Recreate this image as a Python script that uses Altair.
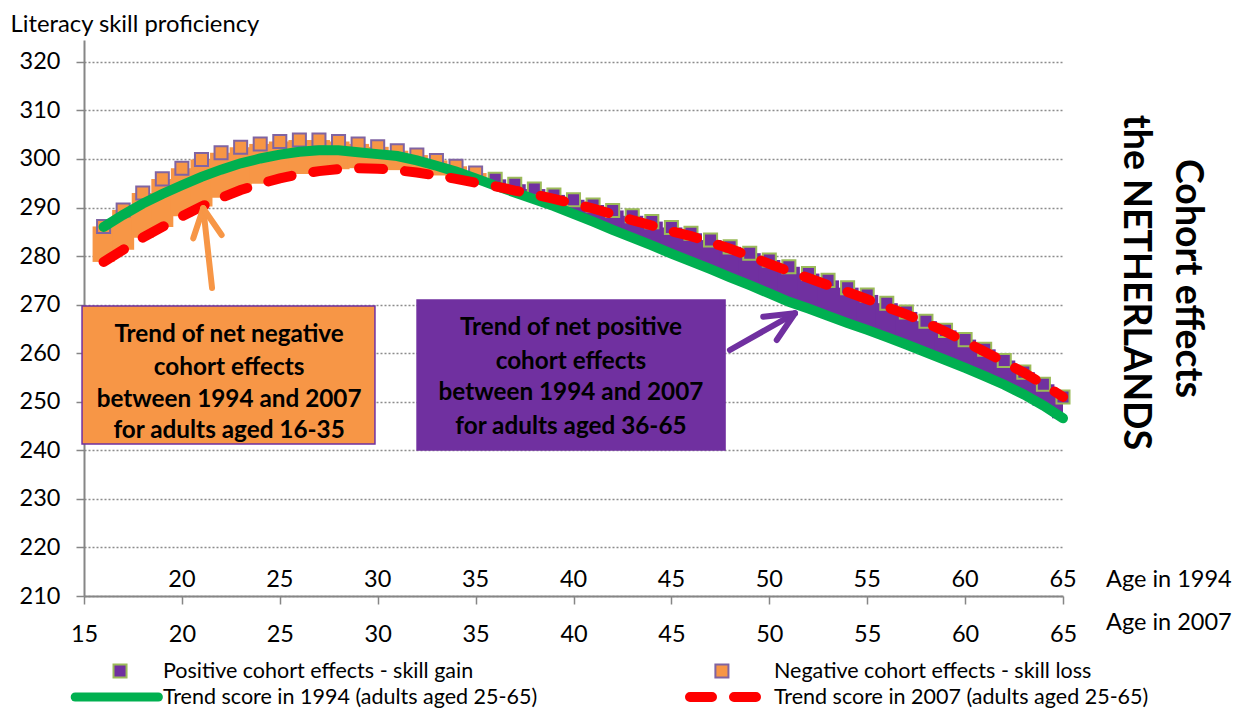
import altair as alt
import pandas as pd

# ---------------- data ----------------
ages = list(range(16, 66))

trend_1994 = [286.0, 288.5, 290.8, 292.8, 294.6, 296.3, 297.8, 299.1, 300.1, 300.9,
              301.5, 301.8, 301.8, 301.4, 301.0, 300.6, 299.7, 298.6, 297.4, 296.0,
              294.5, 293.1, 291.7, 290.3, 288.7, 287.1, 285.4, 283.8, 282.2, 280.5,
              278.9, 277.3, 275.6, 274.0, 272.3, 270.6, 269.2, 267.7, 266.2, 264.8,
              263.3, 261.8, 260.2, 258.6, 257.0, 255.3, 253.5, 251.5, 249.2, 246.6]

trend_2007 = [278.8, 281.3, 283.8, 286.0, 288.2, 290.2, 292.0, 293.6, 294.9, 296.0,
              296.9, 297.5, 297.9, 298.1, 298.0, 297.7, 297.2, 296.6, 295.9, 295.1,
              294.4, 293.5, 292.7, 291.8, 290.8, 289.8, 288.6, 287.4, 286.3, 285.1,
              284.1, 282.8, 281.5, 280.0, 278.4, 276.9, 275.5, 274.0, 272.6, 271.1,
              269.5, 268.0, 266.3, 264.4, 262.4, 260.3, 258.2, 256.0, 253.6, 251.0]

cohort_marker = [286.1, 289.5, 293.0, 295.9, 298.1, 299.9, 301.3, 302.4, 303.1, 303.6,
                 303.9, 303.9, 303.6, 303.1, 302.5, 301.7, 300.8, 299.7, 298.5, 297.1,
                 295.8, 294.8, 293.8, 292.6, 291.6, 290.5, 289.4, 288.3, 287.1, 285.9,
                 284.7, 283.3, 281.9, 280.6, 279.2, 277.8, 276.4, 275.0, 273.5, 272.0,
                 270.3, 268.5, 266.6, 264.7, 262.8, 260.8, 258.5, 256.1, 253.6, 251.0]

NEG = "Negative cohort effects - skill loss"
POS = "Positive cohort effects - skill gain"
effect_group = [NEG] * 20 + [POS] * 30

x_ticks_2007 = [15, 20, 25, 30, 35, 40, 45, 50, 55, 60, 65]
x_ticks_1994 = [20, 25, 30, 35, 40, 45, 50, 55, 60, 65]
y_ticks = [210, 220, 230, 240, 250, 260, 270, 280, 290, 300, 310, 320]

box_neg_lines = ["Trend of net negative", "cohort effects", "between 1994 and 2007", "for  adults aged 16-35"]
box_pos_lines = ["Trend of net positive", "cohort effects", "between 1994 and 2007", "for  adults aged 36-65"]

# ---------------- styles ----------------
FONT = "Lato"
ORANGE = "#F79646"
PURPLE = "#7030A0"
GREEN = "#00B050"
RED = "#FF0000"
LAV = "#8064A2"
OLIVE = "#9BBB59"
AX = "#868686"

xs = alt.Scale(domain=[15, 65], nice=False, zero=False, padding=0)
ys = alt.Scale(domain=[210, 324.5], nice=False, zero=False, padding=0)

df = pd.DataFrame({"age": ages, "t1994": trend_1994, "t2007": trend_2007,
                   "marker": cohort_marker, "group": effect_group})
df["low"] = df[["t1994", "t2007"]].min(axis=1)

x_axis = alt.Axis(values=x_ticks_2007, title=None, grid=False, labelFont=FONT, labelFontSize=23.5,
                  labelColor="black", labelPadding=18, labelFlush=False, labelOverlap=False,
                  tickSize=8, tickColor=AX, tickWidth=1.5, domainColor=AX, domainWidth=2)
y_axis = alt.Axis(values=y_ticks, title=None, grid=True, gridColor="#8c8c8c", gridDash=[2, 2],
                  gridWidth=1.3, labelFont=FONT, labelFontSize=23.5, labelColor="black",
                  labelPadding=16, labelOverlap=False, labelFlush=False, tickSize=8, tickColor=AX,
                  tickWidth=1.5, domainColor=AX, domainWidth=2)


def X(field):
    return alt.X(field, scale=xs, axis=x_axis)


def Y(field):
    return alt.Y(field, scale=ys, axis=y_axis)


bars = alt.Chart(df).mark_bar(size=22, clip=True).encode(
    x=X("age:Q"),
    y=Y("low:Q"),
    y2="marker:Q",
    color=alt.Color("group:N", scale=alt.Scale(domain=[NEG, POS], range=[ORANGE, PURPLE]), legend=None),
)

squares = alt.Chart(df).mark_square(size=170, strokeWidth=2, opacity=1).encode(
    x=X("age:Q"), y=Y("marker:Q"),
    fill=alt.Fill("group:N", scale=alt.Scale(domain=[NEG, POS], range=[ORANGE, PURPLE]), legend=None),
    stroke=alt.Stroke("group:N", scale=alt.Scale(domain=[NEG, POS], range=[LAV, OLIVE]), legend=None),
)

green = alt.Chart(df).mark_line(color=GREEN, strokeWidth=10, strokeCap="round").encode(
    x=X("age:Q"), y=Y("t1994:Q"))
red = alt.Chart(df).mark_line(color=RED, strokeWidth=10, strokeDash=[24, 22], strokeCap="round").encode(
    x=X("age:Q"), y=Y("t2007:Q"))

# annotation boxes (chart space)
boxes_df = pd.DataFrame({
    "x": [14.90, 32.01], "x2": [29.86, 47.74],
    "y": [269.72, 270.96], "y2": [241.30, 240.07],
    "k": ["neg", "pos"],
})
boxes = alt.Chart(boxes_df).mark_rect(stroke=PURPLE, strokeWidth=1.5).encode(
    x=X("x:Q"), x2="x2:Q", y=Y("y:Q"), y2="y2:Q",
    fill=alt.Fill("k:N", scale=alt.Scale(domain=["neg", "pos"], range=["#F8A66B", "#9161BA"]), legend=None),
)

box_text_df = pd.DataFrame({
    "x": [22.41] * 4 + [39.87] * 4,
    "y": [262.41, 255.41, 248.82, 242.64, 263.75, 256.75, 250.37, 243.36],
    "t": box_neg_lines + box_pos_lines,
})
box_text = alt.Chart(box_text_df).mark_text(font=FONT, fontSize=24.3, fontWeight="bold", color="black",
                                            align="center", baseline="alphabetic").encode(
    x=X("x:Q"), y=Y("y:Q"), text="t:N")

# arrows
arrows_df = pd.DataFrame({
    "x": [21.54, 21.09, 21.09, 47.99, 51.31, 51.31],
    "y": [273.43, 289.84, 289.84, 260.66, 268.22, 268.22],
    "x2": [21.09, 20.58, 22.03, 51.31, 49.69, 50.38],
    "y2": [289.84, 283.66, 284.34, 268.22, 267.52, 262.72],
    "k": ["o", "o", "o", "p", "p", "p"],
})
arrows = alt.Chart(arrows_df).mark_rule(strokeWidth=6, strokeCap="round").encode(
    x=X("x:Q"), y=Y("y:Q"), x2="x2:Q", y2="y2:Q",
    color=alt.Color("k:N", scale=alt.Scale(domain=["o", "p"], range=[ORANGE, PURPLE]), legend=None),
)

# 1994 age labels row above the axis
top_lab_df = pd.DataFrame({"x": x_ticks_1994, "y": [211.95] * len(x_ticks_1994),
                           "t": [str(v) for v in x_ticks_1994]})
top_labels = alt.Chart(top_lab_df).mark_text(font=FONT, fontSize=23.5, color="black", align="center",
                                             baseline="alphabetic").encode(
    x=X("x:Q"), y=Y("y:Q"), text="t:N")

# plain texts (left aligned)
title_df = pd.DataFrame({"x": [11.25], "y": [326.19], "t": ["Literacy skill proficiency"]})
title_text = alt.Chart(title_df).mark_text(font=FONT, fontSize=23.8, color="black", align="left",
                                           baseline="alphabetic").encode(
    x=X("x:Q"), y=Y("y:Q"), text="t:N")
age_title_df = pd.DataFrame({"x": [67.20, 67.20], "y": [211.95, 202.90],
                             "t": ["Age in 1994", "Age in 2007"]})
age_titles = alt.Chart(age_title_df).mark_text(font=FONT, fontSize=23.5, color="black", align="left",
                                               baseline="alphabetic").encode(
    x=X("x:Q"), y=Y("y:Q"), text="t:N")

# side title
side_df = pd.DataFrame({"x": [70.77, 68.09], "y": [275.39, 274.56],
                        "t": ["Cohort effects", "the NETHERLANDS"]})
side = alt.Chart(side_df).mark_text(font=FONT, fontSize=37.5, fontWeight="bold", color="black", angle=90,
                                    align="center", baseline="alphabetic").encode(
    x=X("x:Q"), y=Y("y:Q"), text="t:N")

# legend
leg_sq_df = pd.DataFrame({"x": [16.84, 47.58], "y": [194.55, 194.55], "group": [POS, NEG]})
leg_squares = alt.Chart(leg_sq_df).mark_square(size=170, strokeWidth=2, opacity=1).encode(
    x=X("x:Q"), y=Y("y:Q"),
    fill=alt.Fill("group:N", scale=alt.Scale(domain=[NEG, POS], range=[ORANGE, PURPLE]), legend=None),
    stroke=alt.Stroke("group:N", scale=alt.Scale(domain=[NEG, POS], range=[LAV, OLIVE]), legend=None),
)
leg_green_df = pd.DataFrame({"x": [14.55, 18.80], "y": [189.2, 189.2]})
leg_green = alt.Chart(leg_green_df).mark_line(color=GREEN, strokeWidth=9, strokeCap="round").encode(
    x=X("x:Q"), y=Y("y:Q"))
leg_red_df = pd.DataFrame({"x": [45.95, 49.52], "y": [189.2, 189.2]})
leg_red = alt.Chart(leg_red_df).mark_line(color=RED, strokeWidth=10, strokeDash=[22, 22],
                                          strokeCap="round").encode(x=X("x:Q"), y=Y("y:Q"))
leg_text_df = pd.DataFrame({
    "x": [19.03, 50.24, 19.03, 50.24],
    "y": [193.15, 193.15, 187.76, 187.76],
    "t": [POS, NEG, "Trend score in 1994 (adults aged 25-65)", "Trend score in 2007 (adults aged 25-65)"],
})
leg_text = alt.Chart(leg_text_df).mark_text(font=FONT, fontSize=21.5, color="black", align="left",
                                            baseline="alphabetic").encode(
    x=X("x:Q"), y=Y("y:Q"), text="t:N")

chart = alt.layer(
    bars, squares, green, red, boxes, box_text, arrows, top_labels, title_text, age_titles, side,
    leg_squares, leg_green, leg_red, leg_text,
).properties(
    width=979, height=556,
    autosize=alt.AutoSizeParams(type="none"),
    padding={"left": 76, "top": 32, "right": 170, "bottom": 112},
    background="white",
).configure_view(stroke=None)

chart.save("out.html", embed_options={"renderer": "svg", "actions": False})
